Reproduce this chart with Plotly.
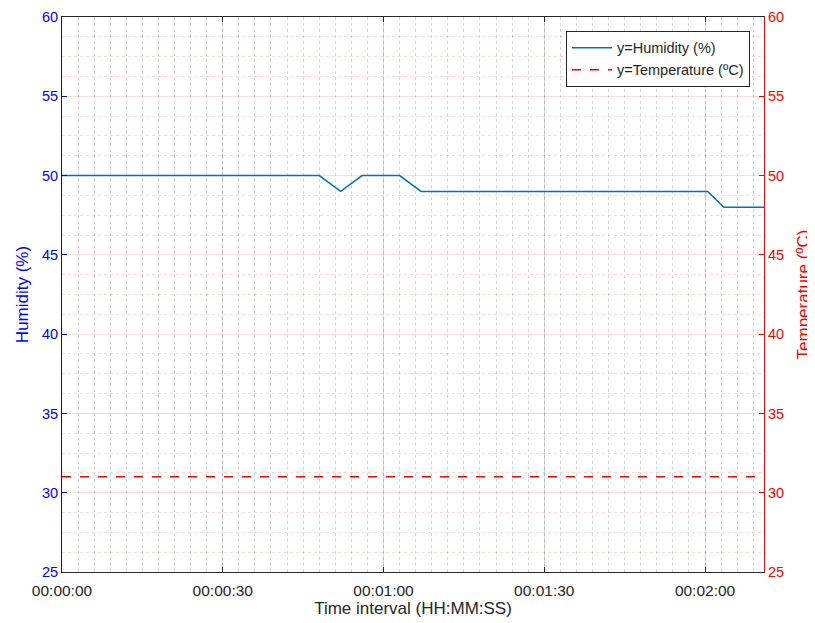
import plotly.graph_objects as go

# Data (seconds from start)
time_s = [0, 48, 52, 56, 63, 67, 120.5, 123.5, 131]
humidity = [50, 50, 49, 50, 50, 49, 49, 48, 48]
temp_time_s = [0, 131]
temperature = [31, 31]

x_tickvals = [0, 30, 60, 90, 120]
x_ticktext = ["00:00:00", "00:00:30", "00:01:00", "00:01:30", "00:02:00"]

FONT = "Liberation Sans, Arial, sans-serif"
BLUE = "#0000FF"
RED = "#FF0000"
DARK = "#262626"

fig = go.Figure()
fig.add_trace(go.Scatter(x=time_s, y=humidity, mode="lines", name="y=Humidity (%)",
                         line=dict(color="#0072BD", width=1.5), yaxis="y"))
fig.add_trace(go.Scatter(x=temp_time_s, y=temperature, mode="lines", name="y=Temperature (ºC)",
                         line=dict(color=RED, width=1.5, dash="dash"), yaxis="y2"))

# the page body adds an 8px offset, so the figure is 8px smaller than the window
fig.update_layout(
    width=807, height=615,
    margin=dict(l=54, r=51, t=9, b=51, autoexpand=False),
    paper_bgcolor="white", plot_bgcolor="white",
    font=dict(family=FONT, size=14, color=DARK),
    showlegend=True,
    legend=dict(x=0.980, y=0.975, xanchor="right", yanchor="top",
                bgcolor="white", bordercolor=DARK, borderwidth=1,
                font=dict(size=14.5, color=DARK), tracegroupgap=0,
                itemwidth=40),
    xaxis=dict(range=[0, 131], tickvals=x_tickvals, ticktext=x_ticktext,
               showline=True, linecolor=DARK, linewidth=1, mirror="ticks",
               ticks="inside", ticklen=5, tickcolor=DARK,
               showgrid=True, gridcolor="rgba(0,0,0,0.14)", gridwidth=1,
               minor=dict(dtick=3, tick0=0, showgrid=True, gridcolor="rgba(0,0,0,0.16)",
                          griddash="dot", ticks=""),
               zeroline=False, automargin=False, ticklabelstandoff=4,
               title=dict(text="Time interval (HH:MM:SS)", font=dict(size=17, color=DARK), standoff=2),
               tickfont=dict(size=15.5, color=DARK)),
    yaxis=dict(range=[25, 60], dtick=5, tick0=25,
               showline=True, linecolor=BLUE, linewidth=1,
               ticks="inside", ticklen=5, tickcolor=BLUE,
               showgrid=False, zeroline=False, automargin=False,
               tickfont=dict(size=14.5, color=BLUE),
               title=dict(text="Humidity (%)", font=dict(size=17, color=BLUE), standoff=9)),
    yaxis2=dict(range=[25, 60], dtick=5, tick0=25, overlaying="y", side="right",
                showline=True, linecolor=RED, linewidth=1,
                ticks="inside", ticklen=5, tickcolor=RED,
                showgrid=True, gridcolor="rgba(255,0,0,0.14)", gridwidth=1,
                minor=dict(dtick=1.25, tick0=25, showgrid=True, gridcolor="rgba(255,0,0,0.16)",
                           griddash="dot", ticks=""),
                zeroline=False, automargin=False,
                tickfont=dict(size=14.5, color=RED),
                title=dict(text="Temperature (ºC)", font=dict(size=17, color=RED), standoff=14)),
)

fig.write_html("out.html")
